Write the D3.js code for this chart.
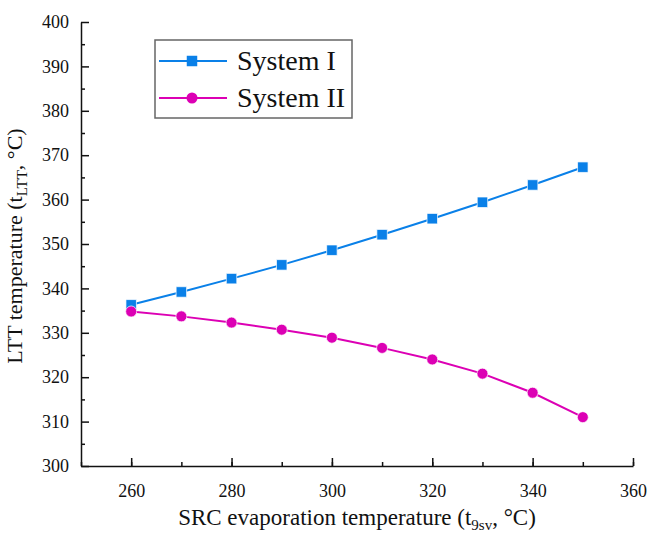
<!DOCTYPE html>
<html>
<head>
<meta charset="utf-8">
<script src="https://cdn.jsdelivr.net/npm/d3@7"></script>
<style>
  body { margin: 0; background: #fff; }
</style>
</head>
<body>
<div id="chart"></div>
<script>
// data
var temps = [260, 270, 280, 290, 300, 310, 320, 330, 340, 350];
var system1 = [336.3, 339.2, 342.2, 345.3, 348.6, 352.1, 355.7, 359.4, 363.3, 367.3];
var system2 = [334.8, 333.7, 332.3, 330.7, 328.9, 326.6, 324.0, 320.8, 316.5, 311.0];
var xTicks = [260, 280, 300, 320, 340, 360];
var yTicks = [300, 310, 320, 330, 340, 350, 360, 370, 380, 390, 400];
var seriesNames = ["System I", "System II"];

var serif = "'Liberation Serif', 'Times New Roman', 'DejaVu Serif', serif";

var margin = {top: 22, right: 17, bottom: 67, left: 81},
    width = 650 - margin.left - margin.right,
    height = 533 - margin.top - margin.bottom;

var svg = d3.select("#chart")
    .append("svg")
    .attr("width", 650)
    .attr("height", 533)
    .attr("font-family", serif)
    .append("g")
    .attr("transform", "translate(" + margin.left + "," + margin.top + ")");

var x = d3.scaleLinear().domain([250, 360]).range([0, width]);
var y = d3.scaleLinear().domain([300, 400]).range([height, 0]);

// minor ticks (inward)
svg.append("g")
    .attr("transform", "translate(0," + height + ")")
    .call(d3.axisBottom(x).tickValues(d3.range(250, 361, 10)).tickSize(-4).tickFormat(""))
    .call(function(g) { g.select(".domain").remove(); });
svg.append("g")
    .call(d3.axisLeft(y).tickValues(d3.range(305, 400, 10)).tickSize(-4).tickFormat(""))
    .call(function(g) { g.select(".domain").remove(); });

// X axis
var xAxis = svg.append("g")
    .attr("transform", "translate(0," + height + ")")
    .call(d3.axisBottom(x).tickValues(xTicks).tickSizeInner(-8).tickSizeOuter(0).tickPadding(18));

// Y axis
var yAxis = svg.append("g")
    .call(d3.axisLeft(y).tickValues(yTicks).tickSizeInner(-8).tickSizeOuter(0).tickPadding(12));

svg.selectAll("g").attr("font-family", serif).attr("font-size", 18);
svg.selectAll(".tick text").attr("fill", "#111");
svg.selectAll(".domain, .tick line").attr("stroke", "#111").attr("stroke-width", 1.5);

// axis titles
var xt = svg.append("text")
    .attr("x", width / 2)
    .attr("y", height + 59)
    .attr("text-anchor", "middle")
    .attr("font-family", serif)
    .attr("font-size", 23)
    .attr("fill", "#111");
xt.append("tspan").text("SRC evaporation temperature (t");
xt.append("tspan").attr("font-size", 15).attr("dy", 5).text("9sv");
xt.append("tspan").attr("dy", -5).text(", \u00B0C)");

var yt = svg.append("text")
    .attr("transform", "translate(-59," + (height / 2 + 2) + ") rotate(-90)")
    .attr("text-anchor", "middle")
    .attr("font-family", serif)
    .attr("font-size", 22)
    .attr("fill", "#111");
yt.append("tspan").text("LTT temperature (t");
yt.append("tspan").attr("font-size", 15).attr("dy", 5).text("LTT");
yt.append("tspan").attr("dy", -5).text(", \u00B0C)");

var colors = ["#0a80e8", "#dc00b4"];
var line = d3.line()
    .x(function(d) { return x(d[0]); })
    .y(function(d) { return y(d[1]); });

[system1, system2].forEach(function(vals, i) {
    var pts = temps.map(function(t, j) { return [t, vals[j]]; });
    svg.append("path")
        .datum(pts)
        .attr("d", line)
        .attr("fill", "none")
        .attr("stroke", colors[i])
        .attr("stroke-width", 2);
    var sym = d3.symbol().type(i == 0 ? d3.symbolSquare : d3.symbolCircle).size(i == 0 ? 110 : 95);
    svg.append("g")
        .selectAll("path")
        .data(pts)
        .enter()
        .append("path")
        .attr("d", sym)
        .attr("transform", function(d) { return "translate(" + x(d[0]) + "," + y(d[1]) + ")"; })
        .attr("fill", colors[i])
        .attr("stroke", "#ffffff")
        .attr("stroke-opacity", 0.7)
        .attr("stroke-width", 1);
});

// legend
var legend = svg.append("g").attr("transform", "translate(" + (155 - margin.left) + "," + (40 - margin.top) + ")");
legend.append("rect")
    .attr("width", 197)
    .attr("height", 78)
    .attr("fill", "#fff")
    .attr("stroke", "#666")
    .attr("stroke-width", 1.5);
seriesNames.forEach(function(name, i) {
    var cy = 21 + i * 37;
    legend.append("line")
        .attr("x1", 4).attr("x2", 72)
        .attr("y1", cy).attr("y2", cy)
        .attr("stroke", colors[i]).attr("stroke-width", 2);
    legend.append("path")
        .attr("d", d3.symbol().type(i == 0 ? d3.symbolSquare : d3.symbolCircle).size(i == 0 ? 110 : 95))
        .attr("transform", "translate(37," + cy + ")")
        .attr("fill", colors[i]);
    legend.append("text")
        .attr("x", 82)
        .attr("y", cy + 9)
        .attr("font-family", serif)
        .attr("font-size", 28)
        .attr("fill", "#111")
        .text(name);
});
</script>
</body>
</html>
